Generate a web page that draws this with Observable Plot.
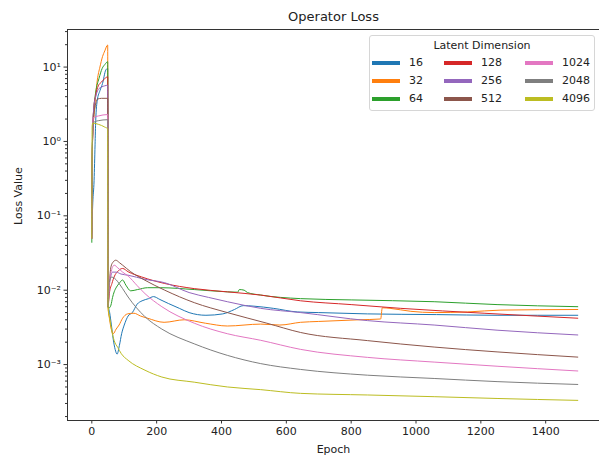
<!DOCTYPE html>
<html>
<head>
<meta charset="utf-8">
<script src="https://cdn.jsdelivr.net/npm/d3@7"></script>
<script src="https://cdn.jsdelivr.net/npm/@observablehq/plot@0.6"></script>
<style>
  html, body { margin: 0; padding: 0; background: #fff; }
  #wrap { position: relative; width: 599px; height: 456px; font-family: "DejaVu Sans", sans-serif; color: #222; }
  #legend { position: absolute; box-sizing: border-box; border: 1px solid #d6d6d6; border-radius: 3px; background: rgba(255,255,255,0.85); }
  .lg-title, .lg-label { position: absolute; font-size: 11px; line-height: 1; white-space: nowrap; }
  .lg-swatch { position: absolute; height: 4px; }
</style>
</head>
<body>
<div id="wrap"></div>
<script>
// ---- data (epoch, loss) ----
const dims = ["16", "32", "64", "128", "256", "512", "1024", "2048", "4096"];
const colors = ["#1f77b4", "#ff7f0e", "#2ca02c", "#d62728", "#9467bd", "#8c564b", "#e377c2", "#7f7f7f", "#bcbd22"];

const loss16 = [[0,0.06],[3,0.15],[7,0.3],[10,0.9],[12,1.9],[17,3.6],[25,4.8],[33,6.0],[43,9.1],[49,9.6],
  [50,0.0065],[55,0.005],[60,0.0035],[66,0.0022],[72,0.0016],[78,0.00138],[85,0.0018],[92,0.0026],[100,0.0034],
  [112,0.0045],[125,0.0050],[140,0.0065],[155,0.0072],[175,0.0077],[190,0.0082],[210,0.0075],[237,0.0066],
  [270,0.0057],[300,0.0050],[352,0.0046],[404,0.0048],[440,0.0055],[467,0.0062],[500,0.0061],[560,0.0057],
  [634,0.0051],[700,0.0050],[850,0.0048],[1063,0.0047],[1250,0.0046],[1499,0.0046]];
const loss32 = [[0,0.06],[1,0.4],[3,1.3],[7,2.3],[12,4.2],[17,6.7],[25,10],[33,13.8],[40,16.5],[49,19.8],
  [50,0.006],[55,0.004],[60,0.003],[66,0.0026],[75,0.003],[84,0.0034],[95,0.0042],[110,0.0048],[130,0.0049],
  [150,0.0045],[172,0.0042],[223,0.0037],[285,0.0040],[350,0.0036],[418,0.0033],[521,0.0035],[580,0.0034],
  [644,0.0037],[700,0.0038],[824,0.0040],[891,0.0041],[896,0.0058],[920,0.0057],[984,0.0052],[1056,0.0050],
  [1159,0.0051],[1262,0.0054],[1499,0.0055]];
const loss64 = [[0,0.044],[1,0.4],[3,1.5],[7,3.0],[12,4.6],[22,7.0],[32,9.6],[40,10.8],[49,11.8],
  [50,0.006],[54,0.0058],[59,0.0063],[64,0.008],[69,0.0095],[76,0.011],[84,0.0123],[95,0.0137],[105,0.0117],
  [120,0.0098],[141,0.0102],[172,0.0108],[212,0.0108],[316,0.0102],[418,0.0095],[450,0.0094],[455,0.0102],
  [470,0.0100],[480,0.0093],[521,0.0086],[644,0.0077],[800,0.0074],[1056,0.0070],[1250,0.0064],[1499,0.0060]];
const loss128 = [[0,0.05],[1,0.4],[3,1.4],[6,2.8],[12,4.2],[20,5.6],[30,6.3],[40,7.0],[49,7.4],
  [50,0.006],[54,0.009],[62,0.0123],[70,0.0155],[79,0.0177],[95,0.0196],[112,0.0177],[153,0.0151],[225,0.0123],
  [316,0.0105],[418,0.0095],[521,0.0086],[644,0.0072],[800,0.0064],[953,0.0057],[1210,0.0049],[1499,0.0042]];
const loss256 = [[0,0.05],[1,0.4],[3,1.4],[6,2.8],[12,4.0],[20,5.0],[30,5.4],[40,5.6],[49,5.7],
  [50,0.006],[53,0.01],[58,0.015],[64,0.0175],[75,0.0175],[90,0.0165],[112,0.0159],[164,0.014],[225,0.0126],
  [300,0.0093],[360,0.0080],[418,0.0070],[521,0.0057],[644,0.0050],[850,0.0039],[1056,0.0034],[1250,0.0029],[1499,0.0025]];
const loss512 = [[0,0.05],[1,0.4],[3,1.4],[6,2.2],[10,2.9],[17,3.7],[30,3.8],[49,3.8],
  [50,0.0059],[54,0.012],[59,0.0206],[66,0.024],[74,0.0253],[85,0.0235],[95,0.0217],[120,0.0177],[164,0.0136],
  [225,0.010],[316,0.0068],[418,0.0050],[540,0.0036],[644,0.0027],[850,0.0021],[1056,0.00172],[1250,0.00148],[1499,0.00126]];
const loss1024 = [[0,0.05],[1,0.4],[3,1.5],[5,2.1],[20,2.2],[49,2.3],
  [50,0.006],[54,0.012],[60,0.018],[69,0.0217],[80,0.020],[95,0.0175],[112,0.0155],[140,0.0115],[164,0.0090],
  [216,0.0060],[316,0.0036],[418,0.0026],[521,0.00212],[644,0.0016],[850,0.00125],[1056,0.00108],[1250,0.00095],[1499,0.00082]];
const loss2048 = [[0,0.05],[1,0.4],[3,1.5],[5,1.8],[20,1.9],[49,1.96],
  [50,0.006],[53,0.012],[60,0.015],[70,0.0145],[80,0.013],[95,0.0105],[112,0.0081],[164,0.0044],[216,0.0030],
  [316,0.0019],[418,0.00133],[521,0.00103],[644,0.00086],[850,0.00072],[1056,0.00065],[1250,0.00059],[1499,0.00054]];
const loss4096 = [[0,0.05],[1,1.6],[3,1.77],[10,1.75],[20,1.7],[30,1.64],[40,1.56],[49,1.48],
  [50,0.006],[55,0.0042],[62,0.0028],[69,0.0021],[80,0.0017],[91,0.0014],[112,0.00114],[164,0.00084],
  [216,0.00068],[316,0.00058],[418,0.0005],[521,0.00046],[644,0.00041],[850,0.00039],[1056,0.00037],[1250,0.00035],[1499,0.00033]];

const xTicks = [0, 200, 400, 600, 800, 1000, 1200, 1400];
const yMajorTicks = [10, 1, 0.1, 0.01, 0.001];
const yMajorLabels = ["10¹", "10⁰", "10⁻¹", "10⁻²", "10⁻³"];
const titleText = "Operator Loss";
const xLabel = "Epoch";
const yLabel = "Loss Value";
const legendTitle = "Latent Dimension";

// ---- build table ----
const series = [loss16, loss32, loss64, loss128, loss256, loss512, loss1024, loss2048, loss4096];
const rows = series.flatMap((s, i) => s.map(([epoch, loss]) => ({epoch, loss, dim: dims[i]})));

const yDomain = [1.77e-4, 32];
const xDomain = [-75, 1566];
const yMinorTicks = [];
for (let d = -4; d <= 1; d++) for (let k = 2; k <= 9; k++) {
  const v = k * Math.pow(10, d);
  if (v >= yDomain[0] && v <= yDomain[1]) yMinorTicks.push(v);
}
const fmt = v => yMajorLabels[yMajorTicks.indexOf(v)];

const chart = Plot.plot({
  width: 599,
  height: 456,
  marginLeft: 67,
  marginRight: 0,
  marginTop: 29,
  marginBottom: 36,
  style: {fontFamily: "DejaVu Sans, sans-serif", fontSize: "11px", color: "#222", background: "transparent"},
  x: {domain: xDomain},
  y: {type: "log", domain: yDomain},
  color: {domain: dims, range: colors},
  marks: [
    Plot.line(rows, {x: "epoch", y: "loss", z: "dim", stroke: "dim", strokeWidth: 1, curve: "monotone-x"}),
    Plot.ruleX([xDomain[0]], {stroke: "#333", strokeWidth: 1}),
    Plot.ruleY([yDomain[0]], {stroke: "#333", strokeWidth: 1}),
    Plot.ruleY([yDomain[1]], {stroke: "#333", strokeWidth: 1}),
    Plot.axisX(xTicks, {tickSize: 3.5, tickPadding: 3, label: null, tickFormat: d => String(d), fontSize: 11, stroke: "#333"}),
    Plot.axisY(yMajorTicks, {tickSize: 3.5, tickPadding: 3, label: null, tickFormat: fmt, fontSize: 11, stroke: "#333"}),
    Plot.axisY(yMinorTicks, {tickSize: 2, label: null, tickFormat: () => "", stroke: "#333"}),
    Plot.text([titleText], {frameAnchor: "top", lineAnchor: "middle", dy: -13, fontSize: 13, fill: "#222"}),
    Plot.text([xLabel], {frameAnchor: "bottom", lineAnchor: "middle", dy: 29, fontSize: 11, fill: "#222"}),
    Plot.text([yLabel], {frameAnchor: "left", dx: -49, rotate: -90, fontSize: 11, fill: "#222"})
  ]
});

const wrap = document.getElementById("wrap");
wrap.appendChild(chart);

// ---- legend (HTML overlay) ----
const legend = document.createElement("div");
legend.id = "legend";
Object.assign(legend.style, {left: "369px", top: "35px", width: "226px", height: "76px"});
wrap.appendChild(legend);
const t = document.createElement("div");
t.className = "lg-title";
t.textContent = legendTitle;
Object.assign(t.style, {left: "0", width: "100%", textAlign: "center", top: (45 - 35 - 6) + "px"});
legend.appendChild(t);
const colSwatchX = [371, 443, 524];
const rowY = [62.3, 80.3, 98.3];
dims.forEach((d, i) => {
  const c = Math.floor(i / 3), r = i % 3;
  const sw = document.createElement("div");
  sw.className = "lg-swatch";
  Object.assign(sw.style, {left: (colSwatchX[c] - 369) + "px", top: (rowY[r] - 35 - 2) + "px", width: "28px", background: colors[i]});
  legend.appendChild(sw);
  const lb = document.createElement("div");
  lb.className = "lg-label";
  lb.textContent = d;
  Object.assign(lb.style, {left: (colSwatchX[c] + 37 - 369) + "px", top: (rowY[r] - 35 - 6) + "px"});
  legend.appendChild(lb);
});
</script>
</body>
</html>
